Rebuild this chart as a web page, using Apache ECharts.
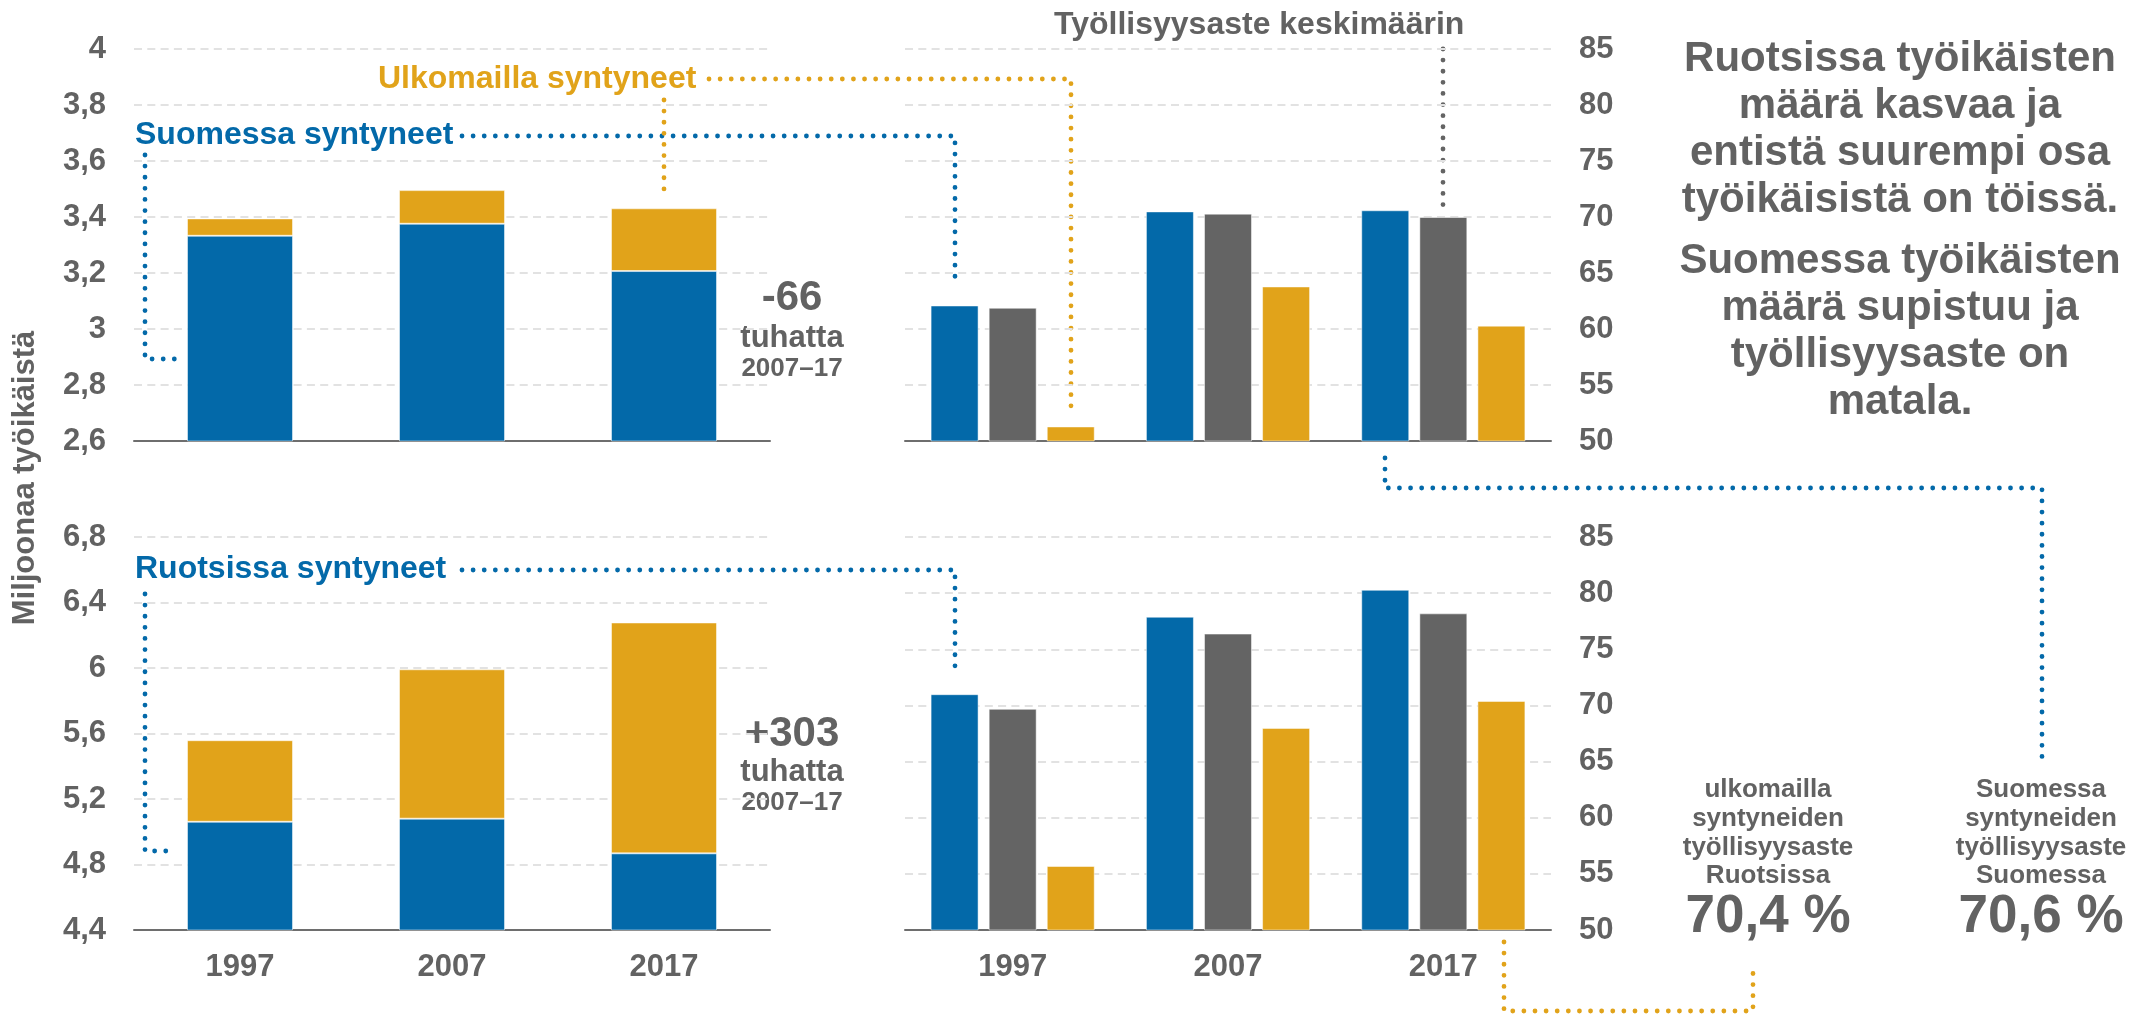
<!DOCTYPE html>
<html>
<head>
    <meta charset="utf-8">
    <title>Työikäiset ja työllisyysaste</title>
    <script src="https://cdn.jsdelivr.net/npm/echarts@6/dist/echarts.min.js"></script>
<style type="text/css">
    html, body { margin: 0; padding: 0; background: #fff; }
    #main { width: 2150px; height: 1016px; }
</style>
</head>
<body>
<div id="main"></div>
<script>
    // vuodet
    var years = ['1997', '2007', '2017'];

    // työikäiset, miljoonaa (Suomi ylhäällä, Ruotsi alhaalla)
    var fiBornFi = [3.333, 3.376, 3.207];
    var fiBornAbroad = [0.062, 0.120, 0.224];
    var seBornSe = [5.061, 5.080, 4.868];
    var seBornAbroad = [0.498, 0.912, 1.410];

    // työllisyysaste, %
    var fiRateNative = [62.1, 70.5, 70.6];
    var fiRateAvg = [61.9, 70.3, 70.0];
    var fiRateAbroad = [51.3, 63.8, 60.3];
    var seRateNative = [71.0, 77.9, 80.3];
    var seRateAvg = [69.7, 76.4, 78.2];
    var seRateAbroad = [55.7, 68.0, 70.4];

    var BLUE = '#0369A9', ORANGE = '#E1A31A', GREY = '#646464', TXT = '#626262';
    var FONT = '"Liberation Sans", Arial, sans-serif';

    function commaLabel(v) {
        return String(+v.toFixed(1)).replace('.', ',');
    }

    function xAxisFor(grid, showLabels) {
        return {
            type: 'category', gridIndex: grid, data: years,
            axisTick: {show: false},
            axisLine: {lineStyle: {color: '#6e6e6e', width: 2}},
            axisLabel: {show: showLabels, color: TXT, fontSize: 31, fontWeight: 'bold', fontFamily: FONT, margin: 22}
        };
    }

    function yAxisFor(grid, min, max, step, right) {
        return {
            type: 'value', gridIndex: grid, min: min, max: max, interval: step,
            position: right ? 'right' : 'left',
            axisLine: {show: false}, axisTick: {show: false},
            splitLine: {lineStyle: {color: '#e2e2e2', width: 2, type: [8, 5.3]}},
            axisLabel: {
                color: TXT, fontSize: 31, fontWeight: 'bold', fontFamily: FONT, margin: 28,
                formatter: right ? '{value}' : commaLabel
            }
        };
    }

    function stackBar(x, data, color, stack) {
        return {
            type: 'bar', xAxisIndex: x, yAxisIndex: x, stack: stack, data: data,
            barWidth: '50%',
            itemStyle: {color: color, borderColor: 'rgba(255,255,255,0.5)', borderWidth: 1}
        };
    }

    function rateBar(x, data, color) {
        return {
            type: 'bar', xAxisIndex: x, yAxisIndex: x, data: data,
            barWidth: 48, barGap: '21%',
            itemStyle: {color: color, borderColor: 'rgba(255,255,255,0.5)', borderWidth: 1}
        };
    }

    function dots(points, color) {
        return {
            type: 'polyline', silent: true,
            shape: {points: points},
            style: {stroke: color, lineWidth: 4.8, lineDash: [0.01, 11.1], lineCap: 'round', fill: null}
        };
    }

    function label(txt, x, y, size, color, align, extra) {
        var s = {
            text: txt, x: x, y: y, fill: color,
            font: 'bold ' + size + 'px ' + FONT,
            textAlign: align || 'left', textVerticalAlign: 'middle'
        };
        if (extra) { for (var k in extra) s[k] = extra[k]; }
        return {type: 'text', silent: true, style: s};
    }

    var myChart = echarts.init(document.getElementById('main'));

    var option = {
        animation: false,
        grid: [
            {left: 134, top: 49, width: 636, height: 392},
            {left: 134, top: 537, width: 636, height: 393},
            {left: 905, top: 49, width: 646, height: 392},
            {left: 905, top: 537, width: 646, height: 393}
        ],
        xAxis: [xAxisFor(0, false), xAxisFor(1, true), xAxisFor(2, false), xAxisFor(3, true)],
        yAxis: [
            yAxisFor(0, 2.6, 4, 0.2, false),
            yAxisFor(1, 4.4, 6.8, 0.4, false),
            yAxisFor(2, 50, 85, 5, true),
            yAxisFor(3, 50, 85, 5, true)
        ],
        series: [
            stackBar(0, fiBornFi, BLUE, 'fi'),
            stackBar(0, fiBornAbroad, ORANGE, 'fi'),
            stackBar(1, seBornSe, BLUE, 'se'),
            stackBar(1, seBornAbroad, ORANGE, 'se'),
            rateBar(2, fiRateNative, BLUE),
            rateBar(2, fiRateAvg, GREY),
            rateBar(2, fiRateAbroad, ORANGE),
            rateBar(3, seRateNative, BLUE),
            rateBar(3, seRateAvg, GREY),
            rateBar(3, seRateAbroad, ORANGE)
        ],
        graphic: [
            // selitteiden pisteviivat
            dots([[462, 136], [955, 136], [955, 280]], BLUE),
            dots([[145, 155], [145, 359], [176, 359]], BLUE),
            dots([[709, 79], [1071, 79], [1071, 408]], ORANGE),
            dots([[664, 100], [664, 193]], ORANGE),
            dots([[1443, 49], [1443, 207]], GREY),
            dots([[1385, 458], [1385, 488], [2042, 488], [2042, 760]], BLUE),
            dots([[462, 570], [955, 570], [955, 669]], BLUE),
            dots([[145, 594], [145, 851], [168, 851]], BLUE),
            dots([[1504, 942], [1504, 1011], [1753, 1011], [1753, 963]], ORANGE),

            label('Suomessa syntyneet', 135, 135, 32, BLUE),
            label('Ulkomailla syntyneet', 378, 79, 32, ORANGE),
            label('Työllisyysaste keskimäärin', 1054, 25, 32, TXT),
            label('Ruotsissa syntyneet', 135, 569, 32, BLUE),

            label('-66', 792, 298, 42, TXT, 'center'),
            label('tuhatta', 792, 338, 31, TXT, 'center'),
            label('2007–17', 792, 369, 26, TXT, 'center'),
            label('+303', 792, 734, 42, TXT, 'center'),
            label('tuhatta', 792, 772, 31, TXT, 'center'),
            label('2007–17', 792, 803, 26, TXT, 'center'),

            label('Ruotsissa työikäisten\nmäärä kasvaa ja\nentistä suurempi osa\ntyöikäisistä on töissä.',
                1900, 36, 42, TXT, 'center', {textVerticalAlign: 'top', lineHeight: 47}),
            label('Suomessa työikäisten\nmäärä supistuu ja\ntyöllisyysaste on\nmatala.',
                1900, 238, 42, TXT, 'center', {textVerticalAlign: 'top', lineHeight: 47}),

            label('ulkomailla\nsyntyneiden\ntyöllisyysaste\nRuotsissa',
                1768, 776, 26, TXT, 'center', {textVerticalAlign: 'top', lineHeight: 28.6}),
            label('70,4 %', 1768, 917, 53, TXT, 'center'),
            label('Suomessa\nsyntyneiden\ntyöllisyysaste\nSuomessa',
                2041, 776, 26, TXT, 'center', {textVerticalAlign: 'top', lineHeight: 28.6}),
            label('70,6 %', 2041, 917, 53, TXT, 'center'),

            label('Miljoonaa työikäistä', 0, 0, 31, TXT, 'center'),
        ]
    };
    // pystyakselin otsikko kierrettynä
    var yName = option.graphic[option.graphic.length - 1];
    yName.x = 25; yName.y = 478; yName.rotation = Math.PI / 2;

    myChart.setOption(option);
</script>
</body>
</html>
